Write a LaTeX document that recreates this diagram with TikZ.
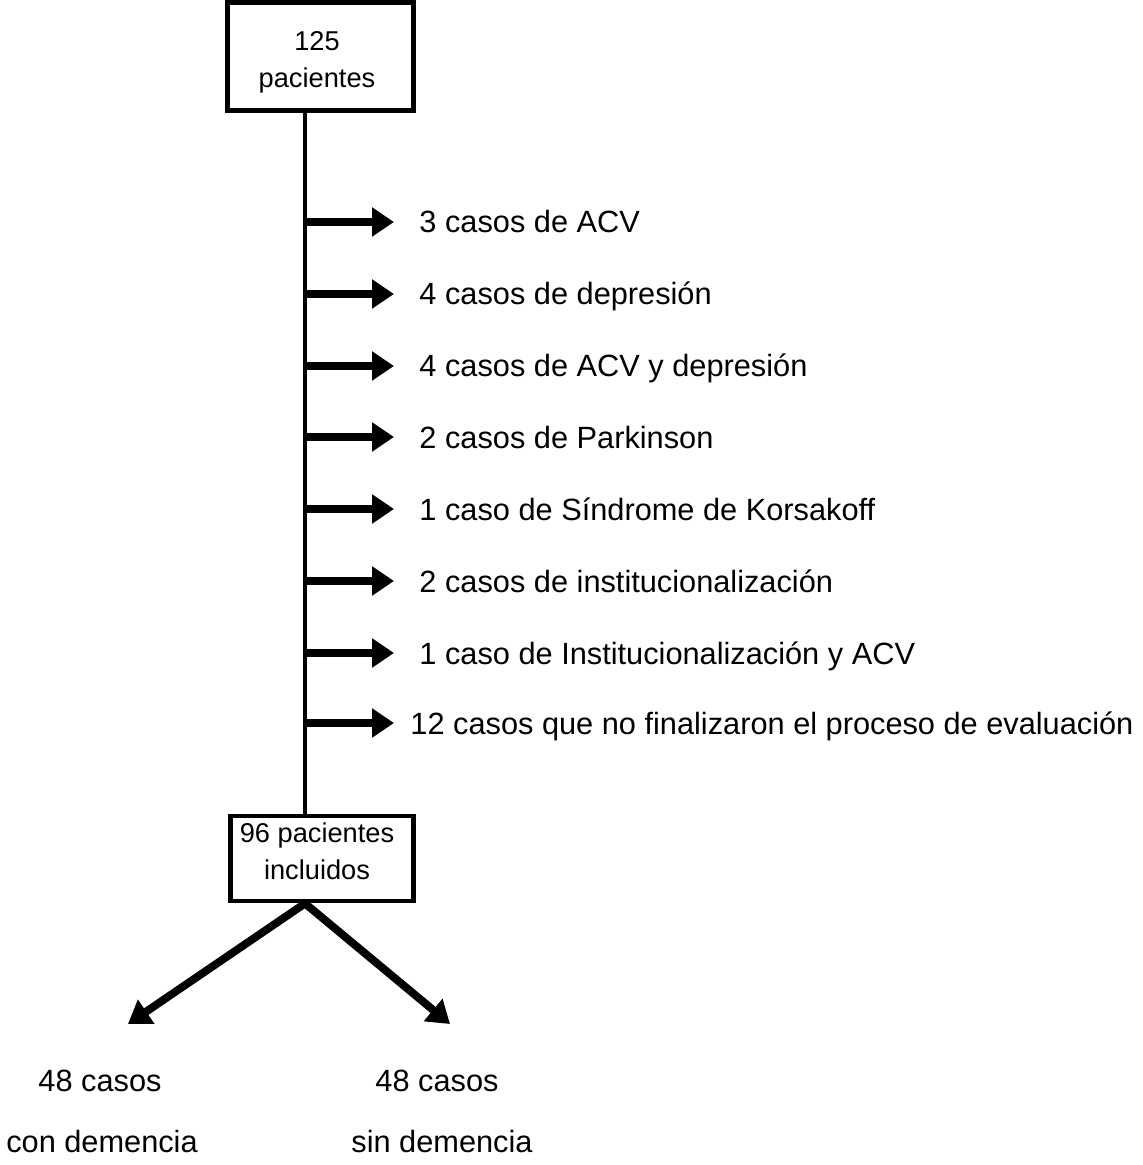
\documentclass[tikz,border=0pt]{standalone}
\usepackage{fontspec}
\setmainfont{Liberation Sans}
\usetikzlibrary{arrows.meta}
\begin{document}
\begin{tikzpicture}[x=0.02cm, y=-0.02cm, line width=2.8pt]
    \tikzset{box/.style={%
      draw,%
      rectangle,%
      line width=2.8pt}%
    };
\tikzset{boxtext/.style={align=center, inner sep=0pt, font=\fontsize{15.5}{21}\selectfont}};
\tikzset{exit/.style={-{Triangle[length=0.44cm, width=0.56cm]}, line width=4.5pt}};
\tikzset{reason/.style={anchor=base west, inner sep=0pt, font=\fontsize{17.5}{21}\selectfont}};
\tikzset{outcome/.style={anchor=base, inner sep=0pt, font=\fontsize{17.5}{21}\selectfont}};

\useasboundingbox (0,0) rectangle (1142,1165);

%boxes
\node[box, minimum width=3.72cm, minimum height=2.16cm] (start) at (320.5,56.5) {};
\node[boxtext] (starttext) at (317,62) {125\\pacientes};
\node[box, minimum width=3.66cm, minimum height=1.7cm] (included) at (322,858.5) {};
\node[boxtext] (includedtext) at (317,851) {96 pacientes\\incluidos};

%main line
\coordinate (spine) at (305,0);
\draw (start.south -| spine) -- (included.north -| spine);

%excluded cases
\coordinate (s1) at (305,222); \coordinate (e1) at (394,222);
\node[reason] (r1) at (417,233) {3 casos de ACV};
\coordinate (s2) at (305,294); \coordinate (e2) at (394,294);
\node[reason] (r2) at (417,305) {4 casos de depresión};
\coordinate (s3) at (305,366); \coordinate (e3) at (394,366);
\node[reason] (r3) at (417,377) {4 casos de ACV y depresión};
\coordinate (s4) at (305,437); \coordinate (e4) at (394,437);
\node[reason] (r4) at (417,448) {2 casos de Parkinson};
\coordinate (s5) at (305,509); \coordinate (e5) at (394,509);
\node[reason] (r5) at (417,520) {1 caso de Síndrome de Korsakoff};
\coordinate (s6) at (305,581); \coordinate (e6) at (394,581);
\node[reason] (r6) at (417,592) {2 casos de institucionalización};
\coordinate (s7) at (305,653); \coordinate (e7) at (394,653);
\node[reason] (r7) at (417,664) {1 caso de Institucionalización y ACV};
\coordinate (s8) at (305,723); \coordinate (e8) at (394,723);
\node[reason] (r8) at (408,734) {12 casos que no finalizaron el proceso de evaluación};

\draw[exit] (s1) -- (e1);
\draw[exit] (s2) -- (e2);
\draw[exit] (s3) -- (e3);
\draw[exit] (s4) -- (e4);
\draw[exit] (s5) -- (e5);
\draw[exit] (s6) -- (e6);
\draw[exit] (s7) -- (e7);
\draw[exit] (s8) -- (e8);

%split into two groups
\coordinate (split) at (included.south -| spine);
\coordinate (leftend) at (128,1024);
\coordinate (rightend) at (450,1024);
\draw[exit] (split) -- (leftend);
\draw[exit] (split) -- (rightend);

\node[outcome] (withcount) at (100,1091) {48 casos};
\node[outcome] (withlabel) at (102,1152) {con demencia};
\node[outcome] (withoutcount) at (437,1091) {48 casos};
\node[outcome] (withoutlabel) at (442,1152) {sin demencia};

\end{tikzpicture}
\end{document}
